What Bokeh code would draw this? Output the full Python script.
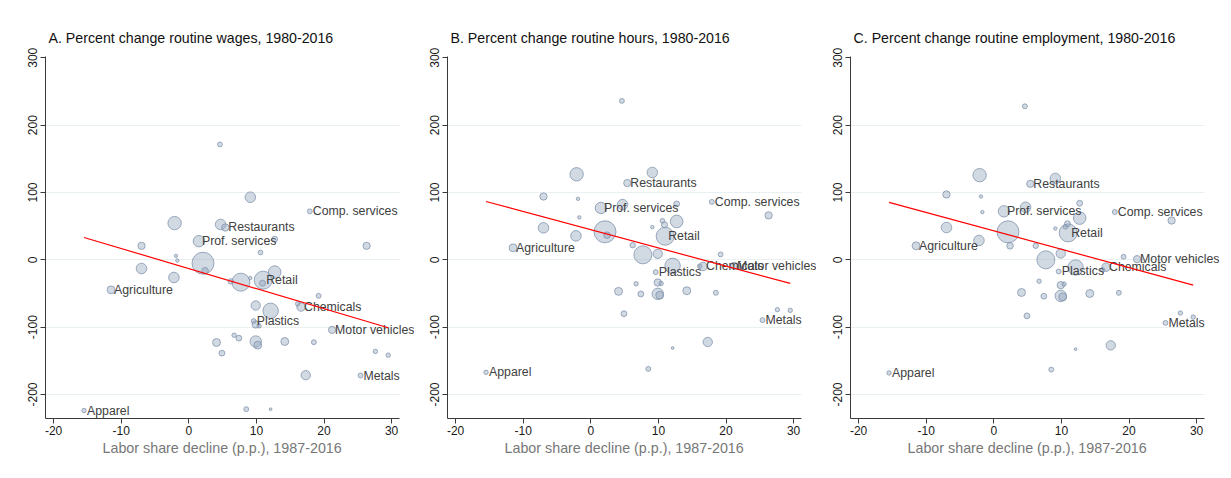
import numpy as np
from bokeh.plotting import figure
from bokeh.layouts import row
from bokeh.models import ColumnDataSource, LabelSet, FixedTicker, Range1d, Title
from bokeh.core.properties import value
from bokeh.embed import file_html
from bokeh.resources import INLINE

# ---- data ----
labor_share_decline = [4.6, 9.1, 17.9, -2.1, 4.7, 5.4, 1.5, 12.7, -7.0, 26.3,
                       10.6, -1.9, -1.7, 2.1, 2.4, -7.0, -2.2, 6.2, 9.1, 7.7,
                       11.0, 12.7, 10.9, -11.5, 19.2, 9.9, 16.1, 16.6, 12.1, 9.6,
                       9.9, 10.4, 6.7, 7.4, 4.1, 9.9, 10.2, 14.2, 18.5, 21.2,
                       4.9, 27.6, 29.5, 17.3, 25.4, -15.5, 8.5, 12.1]
wage_change = [171.3, 93, 72, 54.5, 52.5, 48, 27.7, 30.7, 20.8, 20.8,
               10.9, 5.9, -1, -5, -16.3, -12.9, -26.2, -32, -27, -33.2,
               -30.2, -18.3, -34.7, -44.6, -53.5, -67.8, -65.3, -70, -75.7, -91,
               -96, -98, -112, -116.3, -122.8, -121.3, -126.7, -121.3, -122.3, -104,
               -138.6, -136, -141.6, -171.3, -171.8, -223.8, -221.8, -221.8]
hours_change = [236, 129.7, 86, 127, 82, 114, 77, 83, 94, 66,
                58, 90.6, 63, 41.6, 36.6, 47.5, 35.6, 21.7, 48.5, 7.4,
                35, 57, 52, 17.8, 7.9, 8.9, -9.4, -9.9, -8.9, -18.3,
                -33.7, -35, -35.6, -50.7, -46.8, -50.5, -52.5, -46, -49, -8.9,
                -80, -74, -75, -122, -89.6, -167, -162, -131]
employment_change = [228, 120.8, 71, 125.7, 78, 112.9, 72, 84, 97, 58.4,
                     49, 94, 70.8, 41.6, 20.8, 48, 28.7, 20.8, 46.5, 0,
                     40, 62, 53.5, 20.8, 4.5, 9.4, -14.9, -10.9, -11.4, -17.3,
                     -37.6, -36, -31.7, -54, -48.5, -53.5, -55, -50, -49, 1,
                     -83.2, -79, -85, -127, -93.6, -168, -163, -132.7]
employment_weight = [5, 23, 5, 37, 23, 11, 27, 7, 11, 11,
                     4.5, 2.4, 2.4, 100, 9, 23, 23, 6, 2.4, 67,
                     67, 33, 7.5, 13, 5, 18, 4, 15, 49, 5,
                     11, 4, 4, 7, 13, 27, 13, 13, 5, 11,
                     7, 4, 4, 18, 5, 4, 5, 1.5]
industry_label = ["", "", "Comp. services", "", "", "Restaurants", "Prof. services", "", "", "",
                  "", "", "", "", "", "", "", "", "", "",
                  "Retail", "", "", "Agriculture", "", "", "", "Chemicals", "", "Plastics",
                  "", "", "", "", "", "", "", "", "", "Motor vehicles",
                  "", "", "", "", "Metals", "Apparel", "", ""]

panel_titles = ["A. Percent change routine wages, 1980-2016",
                "B. Percent change routine hours, 1980-2016",
                "C. Percent change routine employment, 1980-2016"]
fit_intercept = [-13.0, 44.7, 43.0]
fit_slope = [-2.98, -2.70, -2.73]
x_ticks = [-20, -10, 0, 10, 20, 30]
y_ticks = [-200, -100, 0, 100, 200, 300]
grid_ticks = [-200, -100, 0, 100, 200]
x_axis_title = "Labor share decline (p.p.), 1987-2016"

FONT = "Liberation Sans"
X_LO, X_HI = -21.2, 31.1        # extent of the drawn x axis
Y_LO, Y_HI = -235.6, 301.9
PX_PER_X = 6.76                  # horizontal scale (px per unit)


def make_panel(title, yvals, a, b, width, border_left):
    frame_w = width - border_left
    x_end = X_LO + frame_w / PX_PER_X   # room for labels that run past the axis
    p = figure(width=width, height=470,
               x_range=Range1d(X_LO, x_end), y_range=Range1d(Y_LO, Y_HI),
               output_backend="svg", toolbar_location=None,
               min_border_left=border_left, min_border_right=0,
               min_border_top=56, min_border_bottom=52)
    p.outline_line_color = None
    p.background_fill_color = "white"

    p.title.text = title
    p.title.text_font = FONT
    p.title.text_font_size = "14.2px"
    p.title.text_font_style = "normal"
    p.title.text_color = "#111111"
    p.title.align = "left"
    p.title.offset = 3
    p.title.standoff = 21

    p.xgrid.visible = False
    p.ygrid.ticker = FixedTicker(ticks=grid_ticks)
    p.ygrid.cross_bounds = (X_LO, X_HI)
    p.ygrid.grid_line_color = "#e8f0f2"
    p.ygrid.grid_line_width = 1

    for ax in (p.xaxis[0], p.yaxis[0]):
        ax.axis_line_color = "#3a3a3a"
        ax.major_tick_line_color = "#3a3a3a"
        ax.major_tick_out = 5
        ax.major_tick_in = 0
        ax.minor_tick_line_color = None
        ax.major_label_text_font = FONT
        ax.major_label_text_font_size = "12px"
        ax.major_label_text_color = "#1a1a1a"
        ax.major_label_standoff = 2

    p.xaxis[0].ticker = FixedTicker(ticks=x_ticks)
    p.xaxis[0].major_label_overrides = {t: str(t) for t in x_ticks}
    p.xaxis[0].bounds = (X_LO, X_HI)
    p.yaxis[0].ticker = FixedTicker(ticks=y_ticks)
    p.yaxis[0].major_label_overrides = {t: str(t) for t in y_ticks}
    p.yaxis[0].major_label_orientation = "vertical"
    p.yaxis[0].major_label_standoff = 3

    p.add_layout(Title(text=x_axis_title, align="left", offset=57,
                       text_font=FONT, text_font_size="14.3px",
                       text_font_style="normal", text_color="#777777",
                       standoff=0), "below")

    sizes = [22 * np.sqrt(w / 100.0) for w in employment_weight]
    src = ColumnDataSource(dict(x=labor_share_decline, y=yvals, s=sizes))
    p.scatter("x", "y", source=src, size="s", marker="circle",
              fill_color="#8da0b8", fill_alpha=0.4,
              line_color="#8496ae", line_alpha=0.8, line_width=1)

    lab_idx = [i for i, n in enumerate(industry_label) if n]
    lsrc = ColumnDataSource(dict(x=[labor_share_decline[i] for i in lab_idx],
                                 y=[yvals[i] for i in lab_idx],
                                 t=[industry_label[i] for i in lab_idx]))
    p.add_layout(LabelSet(x="x", y="y", text="t", source=lsrc,
                          x_offset=3, text_align="left", text_baseline="middle",
                          text_font=value(FONT), text_font_size=value("12.3px"),
                          text_color="#404040"))

    xs = [min(labor_share_decline), max(labor_share_decline)]
    ys = [a + b * v for v in xs]
    p.line(xs, ys, line_color="#ff0000", line_width=1.2, level="overlay")
    return p


panels = [make_panel(panel_titles[0], wage_change, fit_intercept[0], fit_slope[0], 414, 45),
          make_panel(panel_titles[1], hours_change, fit_intercept[1], fit_slope[1], 402, 33),
          make_panel(panel_titles[2], employment_change, fit_intercept[2], fit_slope[2], 410, 34)]

layout = row(*panels)
open("out.html", "w").write(file_html(layout, INLINE))
